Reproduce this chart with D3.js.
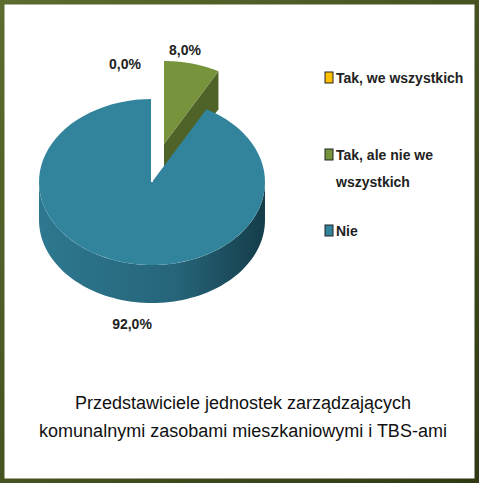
<!DOCTYPE html><html><head><meta charset="utf-8"><script src="https://cdn.jsdelivr.net/npm/d3@7"></script>
<style>body{margin:0;background:#fff}</style></head><body><svg id="c" width="479" height="483"></svg>
<script>
const categories=["Tak, we wszystkich","Tak, ale nie we wszystkich","Nie"];
const values=[0.0,8.0,92.0];
const labels=["0,0%","8,0%","92,0%"];
const tops=["#FFC000","#77933C","#31849B"];
const sides=["#B38600","#4F6228","#21596A"];
const svg=d3.select("#c");
const F="'Liberation Sans Narrow','Arial Narrow',sans-serif";
const defs=svg.append("defs");
const g1=defs.append("linearGradient").attr("id","fr").attr("x1",0).attr("x2",1).attr("y1",0).attr("y2",1);
g1.append("stop").attr("offset",0).attr("stop-color","#5c6b2e");g1.append("stop").attr("offset",1).attr("stop-color","#2f3a14");
svg.append("rect").attr("x",2).attr("y",2).attr("width",475).attr("height",479).attr("fill","#fff").attr("stroke","url(#fr)").attr("stroke-width",5);
const sg=defs.append("linearGradient").attr("id","sb");
sg.append("stop").attr("offset",0).attr("stop-color","#2d7890");sg.append("stop").attr("offset",0.6).attr("stop-color","#26657a");sg.append("stop").attr("offset",1).attr("stop-color","#153d4a");
const cx=152,cy=182,rx=113,ry=83,depth=38;
const pie=d3.pie().sort(null).value(d=>d)(values);
const pt=(a,r,dx,dy,z)=>[cx+dx+r*rx*Math.sin(a),cy+dy-r*ry*Math.cos(a)+(z||0)];
const offs=[[4,-40],[12,-38],[0,0]];
const line=d3.line();
pie.forEach((p,i)=>{
  if(p.endAngle-p.startAngle<1e-6)return;
  const [dx,dy]=offs[i];
  const n=80,arc=[];
  for(let k=0;k<=n;k++)arc.push(p.startAngle+(p.endAngle-p.startAngle)*k/n);
  // cut face at start angle (visible for green on right)
  if(i===1){
    const a=p.endAngle;
    svg.append("path").attr("d",line([pt(0,0,dx,dy),pt(a,1,dx,dy),pt(a,1,dx,dy,depth),pt(0,0,dx,dy,depth)])+"Z").attr("fill",sides[i]);
  }
  // side wall, visible front half
  const lo=Math.max(p.startAngle,Math.PI/2),hi=Math.min(p.endAngle,3*Math.PI/2);
  if(hi>lo){
    const s=[];for(let k=0;k<=n;k++)s.push(lo+(hi-lo)*k/n);
    const poly=s.map(a=>pt(a,1,dx,dy)).concat(s.slice().reverse().map(a=>pt(a,1,dx,dy,depth)));
    svg.append("path").attr("d",line(poly)+"Z").attr("fill",i===2?"url(#sb)":sides[i]);
  }
  const top=[pt(0,0,dx,dy)].concat(arc.map(a=>pt(a,1,dx,dy)));
  svg.append("path").attr("d",line(top)+"Z").attr("fill",tops[i]);
  if(i===2){
    // white gap edge at 0
    svg.append("line").attr("x1",cx).attr("y1",cy-ry).attr("x2",cx).attr("y2",cy).attr("stroke","#fff").attr("stroke-width",2);
  }
});
const lp=[[125,69],[185,55],[132,329]];
labels.forEach((t,i)=>svg.append("text").attr("x",lp[i][0]).attr("y",lp[i][1]).attr("text-anchor","middle").attr("font-family",F).attr("font-size",14).attr("font-weight","bold").attr("fill","#222").text(t));
const ly=[[78],[155,182],[231]];
const lines=[["Tak, we wszystkich"],["Tak, ale nie we","wszystkich"],["Nie"]];
categories.forEach((c,i)=>{
  svg.append("rect").attr("x",325).attr("y",ly[i][0]-6).attr("width",8).attr("height",11).attr("fill",tops[i]).attr("stroke","#222").attr("stroke-width",1);
  lines[i].forEach((t,j)=>svg.append("text").attr("x",336).attr("y",ly[i][j]+5).attr("font-family",F).attr("font-size",14).attr("font-weight","bold").attr("fill","#222").text(t));
});
["Przedstawiciele jednostek zarządzających","komunalnymi zasobami  mieszkaniowymi i TBS-ami"].forEach((t,j)=>
svg.append("text").attr("x",243).attr("y",409+j*28).attr("text-anchor","middle").attr("font-family",F).attr("font-size",18).attr("fill","#111").text(t));
</script></body></html>
